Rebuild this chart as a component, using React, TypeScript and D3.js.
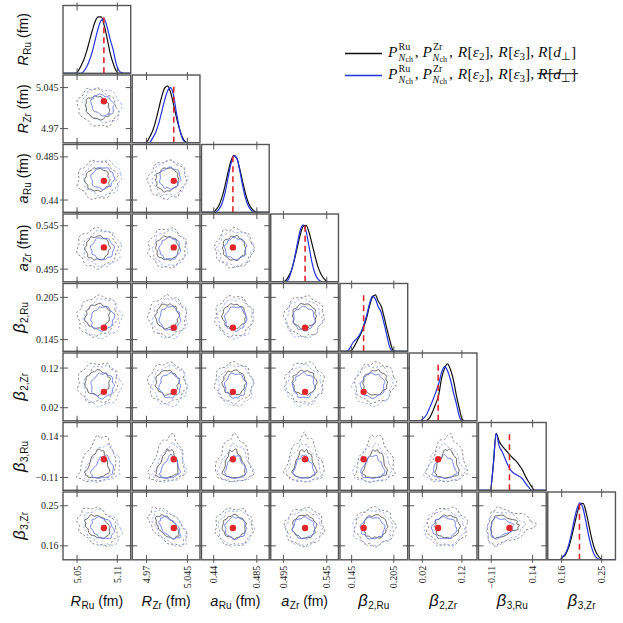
import React, { useLayoutEffect, useRef, useState } from "react";
import * as d3 from "d3";

// ---------- data ----------
const varDomains: [number, number][] = [
  [5.029, 5.13], [4.944, 5.068], [0.4272, 0.4979], [0.4804, 0.5585],
  [0.1284, 0.2247], [-0.013, 0.158], [-0.187, 0.222], [0.1286, 0.281],
];
const varTicks = [
  [5.05, 5.11], [4.97, 5.045], [0.44, 0.485], [0.495, 0.545],
  [0.145, 0.205], [0.02, 0.12], [-0.11, 0.14], [0.16, 0.25],
];
const tickLabels = [
  ["5.05", "5.11"], ["4.97", "5.045"], ["0.44", "0.485"], ["0.495", "0.545"],
  ["0.145", "0.205"], ["0.02", "0.12"], ["\u22120.11", "0.14"], ["0.16", "0.25"],
];
const truths = [5.09, 5.02, 0.46, 0.52, 0.162, 0.06, 0.0, 0.2];

const labelMain = ["R", "R", "a", "a", "\u03b2", "\u03b2", "\u03b2", "\u03b2"];
const labelSub = ["Ru", "Zr", "Ru", "Zr", "2,Ru", "2,Zr", "3,Ru", "3,Zr"];
const labelUnit = [" (fm)", " (fm)", " (fm)", " (fm)", "", "", "", ""];

// marginal densities (24 samples evenly spread over each domain), black series
const margBlack = [
  [0, 0, 0, 0, 0, 0.03, 0.12, 0.23, 0.38, 0.57, 0.76, 0.92, 0.99, 0.99, 0.84, 0.61, 0.36, 0.18, 0.05, 0, 0, 0, 0, 0],
  [0, 0, 0, 0, 0, 0.02, 0.11, 0.22, 0.39, 0.6, 0.81, 0.96, 1.0, 0.89, 0.68, 0.45, 0.25, 0.1, 0.02, 0, 0, 0, 0, 0],
  [0, 0, 0, 0, 0, 0.05, 0.13, 0.27, 0.47, 0.7, 0.9, 1.0, 0.95, 0.76, 0.53, 0.32, 0.16, 0.07, 0.02, 0, 0, 0, 0, 0],
  [0, 0, 0, 0, 0, 0.02, 0.09, 0.2, 0.38, 0.6, 0.82, 0.97, 0.99, 0.87, 0.67, 0.46, 0.27, 0.14, 0.06, 0.01, 0, 0, 0, 0],
  [0, 0, 0, 0, 0.02, 0.1, 0.2, 0.3, 0.42, 0.58, 0.79, 0.95, 0.99, 0.88, 0.79, 0.6, 0.38, 0.18, 0.02, 0, 0, 0, 0, 0],
  [0, 0, 0, 0, 0, 0, 0.01, 0.06, 0.17, 0.3, 0.45, 0.75, 0.92, 1.0, 0.9, 0.72, 0.45, 0.22, 0.03, 0, 0, 0, 0, 0],
  [0, 0, 0, 0, 0, 0.43, 1.0, 0.86, 0.78, 0.72, 0.66, 0.6, 0.55, 0.5, 0.43, 0.35, 0.24, 0.15, 0.07, 0, 0, 0, 0, 0],
  [0, 0, 0, 0, 0, 0.04, 0.09, 0.2, 0.38, 0.6, 0.82, 0.97, 0.99, 0.84, 0.6, 0.36, 0.18, 0.08, 0.02, 0, 0, 0, 0, 0],
];
// marginal densities, blue series
const margBlue = [
  [0, 0, 0, 0, 0, 0, 0, 0.03, 0.11, 0.23, 0.39, 0.6, 0.8, 0.93, 0.95, 0.81, 0.6, 0.42, 0.18, 0.05, 0.01, 0, 0, 0],
  [0, 0, 0, 0, 0, 0, 0.01, 0.09, 0.19, 0.34, 0.54, 0.75, 0.91, 0.97, 0.84, 0.53, 0.26, 0.08, 0.01, 0, 0, 0, 0, 0],
  [0, 0, 0, 0, 0, 0.01, 0.06, 0.16, 0.34, 0.6, 0.85, 0.99, 0.95, 0.73, 0.46, 0.24, 0.1, 0.03, 0, 0, 0, 0, 0, 0],
  [0, 0, 0, 0, 0, 0, 0.04, 0.19, 0.4, 0.66, 0.9, 1.0, 0.89, 0.62, 0.34, 0.15, 0.05, 0.01, 0, 0, 0, 0, 0, 0],
  [0, 0, 0, 0.03, 0.12, 0.19, 0.24, 0.32, 0.45, 0.62, 0.83, 0.97, 0.92, 0.78, 0.68, 0.48, 0.26, 0.06, 0, 0, 0, 0, 0, 0],
  [0, 0, 0, 0, 0.01, 0.05, 0.12, 0.24, 0.36, 0.5, 0.65, 0.85, 0.95, 0.88, 0.72, 0.5, 0.3, 0.08, 0, 0, 0, 0, 0, 0],
  [0, 0, 0, 0, 0, 0.43, 1.0, 0.78, 0.68, 0.56, 0.44, 0.35, 0.3, 0.27, 0.24, 0.2, 0.12, 0.06, 0, 0, 0, 0, 0, 0],
  [0, 0, 0, 0, 0, 0.05, 0.11, 0.24, 0.45, 0.7, 0.91, 1.0, 0.9, 0.66, 0.4, 0.2, 0.07, 0.02, 0, 0, 0, 0, 0, 0],
];

// 2D posterior summaries
const centerBlack = [5.0804, 5.008, 0.4612, 0.5192, 0.1783, 0.0831, -0.078, 0.203];
const centerBlue = [5.0879, 5.013, 0.4628, 0.5186, 0.1748, 0.0756, -0.08, 0.2];
const sigmaBlackLo = [0.0119, 0.0138, 0.0079, 0.009, 0.0114, 0.0202, 0.022, 0.017];
const sigmaBlackHi = [0.0119, 0.0138, 0.0079, 0.009, 0.0114, 0.0202, 0.09, 0.017];
const sigmaBlueLo = [0.0112, 0.0125, 0.0073, 0.0081, 0.0111, 0.0202, 0.022, 0.0158];
const sigmaBlueHi = [0.0112, 0.0125, 0.0073, 0.0081, 0.0111, 0.0202, 0.068, 0.0158];
const taper = [0, 0, 0, 0, 0, 0, 0.35, 0];
const pairRho = [
  [],
  [-0.2],
  [0, 0.05],
  [0, 0, 0],
  [0.1, 0, 0, 0],
  [0.05, 0, 0, 0, 0.05],
  [0.3, 0.3, 0, 0, 0.1, 0.1],
  [-0.3, -0.55, 0, 0, 0, 0, 0.2],
];
const contourLevels = [1.51, 2.45];
// contour wiggle (radial fraction), one set per line type
const wiggleInnerBlack = [0.05, -0.03, 0.08, 0.02, -0.07, 0.1, -0.02, 0.03, -0.08, 0.07, 0.0, -0.05, 0.11, -0.03, 0.05, -0.1, 0.03, 0.08, -0.05, 0.02, -0.07, 0.07, -0.02, 0.03];
const wiggleInnerBlue = [-0.03, 0.07, 0.0, -0.08, 0.05, 0.1, -0.03, -0.07, 0.08, 0.02, -0.05, 0.07, -0.1, 0.03, 0.08, -0.02, 0.05, -0.07, 0.1, 0.0, -0.05, 0.03, 0.07, -0.08];
const wiggleOuterBlack = [0.07, 0.0, -0.05, 0.08, 0.03, -0.08, 0.05, 0.1, -0.03, 0.02, 0.08, -0.07, 0.0, 0.07, -0.05, 0.1, -0.02, -0.08, 0.05, 0.03, -0.03, 0.08, 0.0, -0.07];
const wiggleOuterBlue = [-0.05, 0.08, 0.03, -0.03, 0.1, 0.0, -0.08, 0.05, 0.07, -0.05, 0.02, 0.1, -0.03, -0.07, 0.05, 0.0, 0.08, -0.05, 0.03, 0.1, -0.08, 0.02, 0.05, -0.03];

const legendLabels = ["solid", "no-dipole"];

// ---------- layout ----------
const X0 = 63;
const Y0 = 5.5;
const PX = 69.25;
const PY = 69.5;
const W = 67.7;
const H = 67.8;
const NV = 8;
const TICK_IN = 5;
const TICK_OUT = 3;

const BORDER = "#555";
const C_BLACK = "#111";
const C_BLUE = "#2233e0";
const C_IN_BLACK = "#555";
const C_IN_BLUE = "#6377e8";
const C_OUT_BLACK = "#7a7a7a";
const C_OUT_BLUE = "#95a3f2";
const C_RED = "#e3262b";

const xScales = varDomains.map((d, c) =>
  d3.scaleLinear().domain(d).range([X0 + c * PX, X0 + c * PX + W])
);
const yScales = varDomains.map((d, r) =>
  d3.scaleLinear().domain(d).range([Y0 + r * PY + H, Y0 + r * PY])
);

function contourPath(r: number, c: number, s: number, level: number, wig: number[]) {
  const rho = pairRho[r][c];
  const cx = s === 0 ? centerBlack[c] : centerBlue[c];
  const cy = s === 0 ? centerBlack[r] : centerBlue[r];
  const sxLo = s === 0 ? sigmaBlackLo[c] : sigmaBlueLo[c];
  const sxHi = s === 0 ? sigmaBlackHi[c] : sigmaBlueHi[c];
  const syLo = s === 0 ? sigmaBlackLo[r] : sigmaBlueLo[r];
  const syHi = s === 0 ? sigmaBlackHi[r] : sigmaBlueHi[r];
  const N = wig.length;
  const off = (r * 7 + c * 5) % N;
  const pts: [number, number][] = d3.range(N).map((t) => {
    const th = (2 * Math.PI * t) / N;
    const z1 = Math.cos(th);
    const z2 = Math.sin(th);
    let u = z1;
    let v = rho * z1 + Math.sqrt(1 - rho * rho) * z2;
    const uo = u;
    if (taper[r] > 0 && v > 0) u = u * (1 - taper[r] * v);
    if (taper[c] > 0 && uo > 0) v = v * (1 - taper[c] * uo);
    const j = 1 + wig[(t + off) % N];
    const dx = u * level * j * (u < 0 ? sxLo : sxHi);
    const dy = v * level * j * (v < 0 ? syLo : syHi);
    return [xScales[c](cx + dx), yScales[r](cy + dy)];
  });
  return d3.line().curve(d3.curveCatmullRomClosed.alpha(0.5))(pts) || "";
}

function Ticks({ r, c, diag }: { r: number; c: number; diag: boolean }) {
  const x0 = X0 + c * PX;
  const y0 = Y0 + r * PY;
  const els: React.ReactNode[] = [];
  varTicks[c].forEach((t, i) => {
    const x = xScales[c](t);
    els.push(<line key={`xt${i}`} x1={x} x2={x} y1={y0 - TICK_OUT} y2={y0 + TICK_IN} />);
    els.push(<line key={`xb${i}`} x1={x} x2={x} y1={y0 + H - TICK_IN} y2={y0 + H + TICK_OUT} />);
  });
  if (!diag) {
    varTicks[r].forEach((t, i) => {
      const y = yScales[r](t);
      els.push(<line key={`yl${i}`} x1={x0 - TICK_OUT} x2={x0 + TICK_IN} y1={y} y2={y} />);
      els.push(<line key={`yr${i}`} x1={x0 + W - TICK_IN} x2={x0 + W + TICK_OUT} y1={y} y2={y} />);
    });
  }
  return <g stroke={BORDER} strokeWidth={1}>{els}</g>;
}

function AxisTitle({ v, x, y, rotate }: { v: number; x: number; y: number; rotate: boolean }) {
  const isBeta = v >= 4;
  return (
    <text
      transform={`translate(${x},${y})${rotate ? " rotate(-90)" : ""}`}
      textAnchor="middle"
      fontFamily="Liberation Sans, Arial, sans-serif"
      fontSize={14}
      fill="#111"
    >
      <tspan fontStyle="italic" fontSize={isBeta ? 16.5 : 14.5}>{labelMain[v]}</tspan>
      <tspan fontSize={10} dy={3} dx={0.5}>{labelSub[v]}</tspan>
      {labelUnit[v] ? <tspan dy={-3}>{labelUnit[v]}</tspan> : null}
    </text>
  );
}

function PTerm({ sup, supW }: { sup: string; supW: number }) {
  return (
    <>
      <tspan fontStyle="italic">P</tspan>
      <tspan fontSize={10} dy={-7} dx={1}>{sup}</tspan>
      <tspan fontSize={10} fontStyle="italic" dx={-supW} dy={11.5}>N</tspan>
      <tspan fontSize={8} dy={0.8} dx={0.3}>ch</tspan>
    </>
  );
}

function LegendPrefix({ x, y, refEl }: { x: number; y: number; refEl?: React.Ref<SVGTextElement> }) {
  return (
    <text ref={refEl} x={x} y={y} fontFamily="Liberation Serif, Times New Roman, serif" fontSize={15.5} fill="#111">
      <PTerm sup="Ru" supW={11.7} />
      <tspan dy={-5.3} dx={1.8}>, </tspan>
      <PTerm sup="Zr" supW={9.9} />
      <tspan dy={-5.3} dx={1.8}>, </tspan>
      <tspan fontStyle="italic" dx={1}>R</tspan>
      <tspan dx={0.5}>[</tspan>
      <tspan fontStyle="italic">{"\u03b5"}</tspan>
      <tspan fontSize={11} dy={3.5}>2</tspan>
      <tspan dy={-3.5}>], </tspan>
      <tspan fontStyle="italic" dx={1}>R</tspan>
      <tspan dx={0.5}>[</tspan>
      <tspan fontStyle="italic">{"\u03b5"}</tspan>
      <tspan fontSize={11} dy={3.5}>3</tspan>
      <tspan dy={-3.5}>],</tspan>
    </text>
  );
}

function LegendTail({ x, y, refEl }: { x: number; y: number; refEl?: React.Ref<SVGTextElement> }) {
  return (
    <text ref={refEl} x={x} y={y} fontFamily="Liberation Serif, Times New Roman, serif" fontSize={15.5} fill="#111">
      <tspan fontStyle="italic">R</tspan>
      <tspan dx={0.5}>[</tspan>
      <tspan fontStyle="italic">d</tspan>
      <tspan fontSize={11} dy={3.5}>{"\u22a5"}</tspan>
      <tspan dy={-3.5}>]</tspan>
    </text>
  );
}

export default function App() {
  const prefixRef = useRef<SVGTextElement>(null);
  const tailRef = useRef<SVGTextElement>(null);
  const [pfxEnd, setPfxEnd] = useState(530);
  const [tailW, setTailW] = useState(36);

  useLayoutEffect(() => {
    if (prefixRef.current) {
      const b = prefixRef.current.getBBox();
      setPfxEnd(b.x + b.width);
    }
    if (tailRef.current) {
      const b = tailRef.current.getBBox();
      setTailW(b.width);
    }
  }, []);

  const densScale = (r: number) =>
    d3.scaleLinear().domain([0, 1.19]).range([Y0 + r * PY + H, Y0 + r * PY]);

  const panels: React.ReactNode[] = [];
  for (let r = 0; r < NV; r++) {
    for (let c = 0; c <= r; c++) {
      const x0 = X0 + c * PX;
      const y0 = Y0 + r * PY;
      const clipId = `clip-${r}-${c}`;
      if (r === c) {
        const [lo, hi] = varDomains[c];
        const xs = d3.range(24).map((k) => lo + (k * (hi - lo)) / 23);
        const ys = densScale(r);
        const line = d3
          .line<number>()
          .x((_, i) => xScales[c](xs[i]))
          .y((d) => ys(d))
          .curve(d3.curveMonotoneX);
        panels.push(
          <g key={clipId}>
            <clipPath id={clipId}>
              <rect x={x0} y={y0} width={W} height={H} />
            </clipPath>
            <rect x={x0} y={y0} width={W} height={H} fill="#fff" />
            <g clipPath={`url(#${clipId})`}>
              <path d={line(margBlack[c]) || ""} fill="none" stroke={C_BLACK} strokeWidth={1.2} />
              <path d={line(margBlue[c]) || ""} fill="none" stroke={C_BLUE} strokeWidth={1.2} />
              <line
                x1={xScales[c](truths[c])}
                x2={xScales[c](truths[c])}
                y1={ys(0)}
                y2={ys(1.02)}
                stroke={C_RED}
                strokeWidth={1.6}
                strokeDasharray="6,4"
              />
            </g>
            <Ticks r={r} c={c} diag={true} />
            <rect x={x0} y={y0} width={W} height={H} fill="none" stroke={BORDER} strokeWidth={1.4} />
          </g>
        );
      } else {
        panels.push(
          <g key={clipId}>
            <clipPath id={clipId}>
              <rect x={x0} y={y0} width={W} height={H} />
            </clipPath>
            <rect x={x0} y={y0} width={W} height={H} fill="#fff" />
            <g clipPath={`url(#${clipId})`} fill="none">
              <path d={contourPath(r, c, 0, contourLevels[1], wiggleOuterBlack)} stroke={C_OUT_BLACK} strokeWidth={0.9} strokeDasharray="2.2,2" />
              <path d={contourPath(r, c, 1, contourLevels[1], wiggleOuterBlue)} stroke={C_OUT_BLUE} strokeWidth={0.9} strokeDasharray="2.2,2" />
              <path d={contourPath(r, c, 0, contourLevels[0], wiggleInnerBlack)} stroke={C_IN_BLACK} strokeWidth={0.9} />
              <path d={contourPath(r, c, 1, contourLevels[0], wiggleInnerBlue)} stroke={C_IN_BLUE} strokeWidth={0.9} />
              <circle cx={xScales[c](truths[c])} cy={yScales[r](truths[r])} r={3.2} fill={C_RED} />
            </g>
            <Ticks r={r} c={c} diag={false} />
            <rect x={x0} y={y0} width={W} height={H} fill="none" stroke={BORDER} strokeWidth={1.4} />
          </g>
        );
      }
    }
  }

  // tick labels
  const tickTexts: React.ReactNode[] = [];
  for (let r = 1; r < NV; r++) {
    varTicks[r].forEach((t, i) => {
      tickTexts.push(
        <text key={`yl-${r}-${i}`} x={X0 - 4.5} y={yScales[r](t)} dy="0.35em" textAnchor="end">
          {tickLabels[r][i]}
        </text>
      );
    });
  }
  for (let c = 0; c < NV; c++) {
    varTicks[c].forEach((t, i) => {
      const x = xScales[c](t) + 3.5;
      const y = Y0 + 7 * PY + H + 6;
      tickTexts.push(
        <text key={`xl-${c}-${i}`} transform={`translate(${x},${y}) rotate(-90)`} textAnchor="end">
          {tickLabels[c][i]}
        </text>
      );
    });
  }

  const titles: React.ReactNode[] = [];
  for (let v = 0; v < NV; v++) {
    titles.push(
      <AxisTitle key={`bt${v}`} v={v} x={X0 + v * PX + W / 2} y={606} rotate={false} />
    );
    titles.push(
      <AxisTitle key={`lt${v}`} v={v} x={v >= 4 ? 25 : 27.5} y={Y0 + v * PY + H / 2} rotate={true} />
    );
  }

  const legX = 345;
  const legTextX = 388;
  const legRows = [56.5, 78.5];

  return (
    <svg
      width={623}
      height={623}
      style={{ position: "absolute", left: 0, top: 0, background: "#fff" }}
    >
      <rect x={0} y={0} width={623} height={623} fill="#fff" />
      {panels}
      <g fontFamily="Liberation Serif, Times New Roman, serif" fontSize={10} fill="#222">
        {tickTexts}
      </g>
      {titles}
      <g>
        {legendLabels.map((lab, i) => (
          <g key={lab}>
            <line
              x1={legX}
              x2={legX + 37}
              y1={legRows[i] - 3}
              y2={legRows[i] - 3}
              stroke={i === 0 ? C_BLACK : C_BLUE}
              strokeWidth={1.4}
            />
            <LegendPrefix x={legTextX} y={legRows[i]} refEl={i === 0 ? prefixRef : undefined} />
            <LegendTail x={pfxEnd + 4} y={legRows[i]} refEl={i === 0 ? tailRef : undefined} />
          </g>
        ))}
        <line
          x1={pfxEnd + 3}
          x2={pfxEnd + 5 + tailW}
          y1={legRows[1] - 4.8}
          y2={legRows[1] - 4.8}
          stroke="#111"
          strokeWidth={1}
        />
      </g>
    </svg>
  );
}
